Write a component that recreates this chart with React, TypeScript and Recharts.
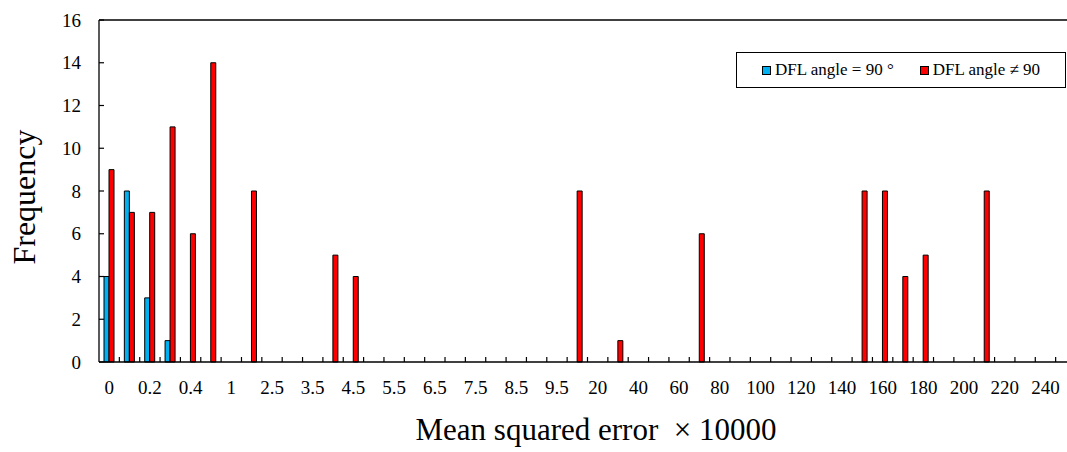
import { BarChart, Bar, XAxis, YAxis, Legend, ReferenceLine } from "recharts";

// bins of mean squared error (x 10000); only every other one gets a label
const bins = [
  "0", "0.1", "0.2", "0.3", "0.4", "0.5", "1", "2", "2.5", "3", "3.5", "4",
  "4.5", "5", "5.5", "6", "6.5", "7", "7.5", "8", "8.5", "9", "9.5", "10",
  "20", "30", "40", "50", "60", "70", "80", "90", "100", "110", "120", "130",
  "140", "150", "160", "170", "180", "190", "200", "210", "220", "230", "240", "250",
];

// DFL angle = 90°
const perpendicular = [
  4, 8, 3, 1, 0, 0, 0, 0, 0, 0, 0, 0,
  0, 0, 0, 0, 0, 0, 0, 0, 0, 0, 0, 0,
  0, 0, 0, 0, 0, 0, 0, 0, 0, 0, 0, 0,
  0, 0, 0, 0, 0, 0, 0, 0, 0, 0, 0, 0,
];

// DFL angle != 90
const oblique = [
  9, 7, 7, 11, 6, 14, 0, 8, 0, 0, 0, 5,
  4, 0, 0, 0, 0, 0, 0, 0, 0, 0, 0, 8,
  0, 1, 0, 0, 0, 6, 0, 0, 0, 0, 0, 0,
  0, 8, 8, 4, 5, 0, 0, 8, 0, 0, 0, 0,
];

const yTicks = [0, 2, 4, 6, 8, 10, 12, 14, 16];

const data = bins.map((bin, i) => ({
  bin,
  perpendicular: perpendicular[i],
  oblique: oblique[i],
}));

const FONT = "'Liberation Serif', 'Times New Roman', serif";
const BLUE = "#00B0F0";
const RED = "#FF0000";

const CHART_W = 1081;
const CHART_H = 452;
const MARGIN = { top: 20, right: 5, left: 0, bottom: 10 };
const Y_AXIS_W = 99;
const X_TICK_MARGIN = 19;
const Y_TICK_MARGIN = 18;
const INNER_TICK = 5;
// width of one bin on the category axis (plot is cut off on the right like the original)
const BAND = (CHART_W - MARGIN.left - MARGIN.right - Y_AXIS_W) / bins.length;

const legendItems = [
  { label: "DFL angle = 90 °", color: BLUE },
  { label: "DFL angle ≠ 90", color: RED },
];

function XTick(props: any) {
  const { x, y, payload, index } = props;
  const axisY = y - X_TICK_MARGIN;
  const edge = x - BAND / 2;
  return (
    <g>
      {index > 0 && (
        <line x1={edge} x2={edge} y1={axisY} y2={axisY - INNER_TICK} stroke="#000" strokeWidth={1.2} />
      )}
      {index % 2 === 0 && (
        <text
          x={x}
          y={y}
          dy="0.71em"
          textAnchor="middle"
          fontSize={19}
          fontFamily={FONT}
          fill="#000"
        >
          {payload.value}
        </text>
      )}
    </g>
  );
}

function YTick(props: any) {
  const { x, y, payload } = props;
  const axisX = x + Y_TICK_MARGIN;
  return (
    <g>
      <line x1={axisX} x2={axisX + INNER_TICK} y1={y} y2={y} stroke="#000" strokeWidth={1.2} />
      <text
        x={x}
        y={y}
        dy="0.355em"
        textAnchor="end"
        fontSize={19}
        fontFamily={FONT}
        fill="#000"
      >
        {payload.value}
      </text>
    </g>
  );
}

function LegendBox() {
  return (
    <div
      style={{
        display: "flex",
        alignItems: "center",
        height: "100%",
        paddingLeft: 25,
        gap: 26,
        fontFamily: FONT,
        fontSize: 17,
        color: "#000",
      }}
    >
      {legendItems.map((it) => (
        <div key={it.label} style={{ display: "flex", alignItems: "center" }}>
          <span
            style={{
              display: "inline-block",
              width: 7,
              height: 7,
              background: it.color,
              border: "1px solid #000",
              marginRight: 4,
            }}
          />
          <span style={{ fontFamily: FONT }}>{it.label}</span>
        </div>
      ))}
    </div>
  );
}

export default function App() {
  return (
    <div
      style={{
        position: "fixed",
        left: 0,
        top: 0,
        width: 1067,
        height: 452,
        overflow: "hidden",
        background: "#fff",
        fontFamily: FONT,
      }}
    >
      <BarChart
        width={CHART_W}
        height={CHART_H}
        data={data}
        margin={MARGIN}
        barGap={0}
        barSize={5}
        style={{ fontFamily: FONT }}
      >
        <XAxis
          dataKey="bin"
          interval={0}
          height={80}
          tickLine={false}
          tickSize={0}
          tickMargin={X_TICK_MARGIN}
          axisLine={{ stroke: "#000", strokeWidth: 1.3 }}
          tick={<XTick />}
          label={{
            content: (props: any) => {
              const vb = props.viewBox || {};
              return (
                <text
                  x={vb.x + 497}
                  y={vb.y + 78}
                  textAnchor="middle"
                  fontSize={31}
                  fontFamily={FONT}
                  fill="#000"
                >
                  Mean squared error{"\u00A0\u00A0"}× 10000
                </text>
              );
            },
          }}
        />
        <YAxis
          domain={[0, 16]}
          ticks={yTicks}
          width={Y_AXIS_W}
          tickLine={false}
          tickSize={0}
          tickMargin={Y_TICK_MARGIN}
          axisLine={{ stroke: "#000", strokeWidth: 1.3 }}
          tick={<YTick />}
          label={{
            content: (props: any) => {
              const vb = props.viewBox || {};
              const cx = vb.x + 35;
              const cy = vb.y + vb.height / 2 + 6;
              return (
                <text
                  x={cx}
                  y={cy}
                  transform={`rotate(-90, ${cx}, ${cy})`}
                  textAnchor="middle"
                  fontSize={32}
                  fontFamily={FONT}
                  fill="#000"
                >
                  Frequency
                </text>
              );
            },
          }}
        />
        <ReferenceLine y={16} stroke="#000" strokeWidth={1.3} />
        <Legend
          layout="horizontal"
          verticalAlign="middle"
          align="center"
          width={330}
          height={36}
          wrapperStyle={{
            left: 736,
            top: 52,
            width: 330,
            height: 36,
            border: "1px solid #000",
            boxSizing: "border-box",
            background: "#fff",
          }}
          content={() => <LegendBox />}
        />
        <Bar
          dataKey="perpendicular"
          name="DFL angle = 90 °"
          fill={BLUE}
          stroke="#000"
          strokeWidth={1}
          isAnimationActive={false}
        />
        <Bar
          dataKey="oblique"
          name="DFL angle ≠ 90"
          fill={RED}
          stroke="#000"
          strokeWidth={1}
          isAnimationActive={false}
        />
      </BarChart>
    </div>
  );
}
